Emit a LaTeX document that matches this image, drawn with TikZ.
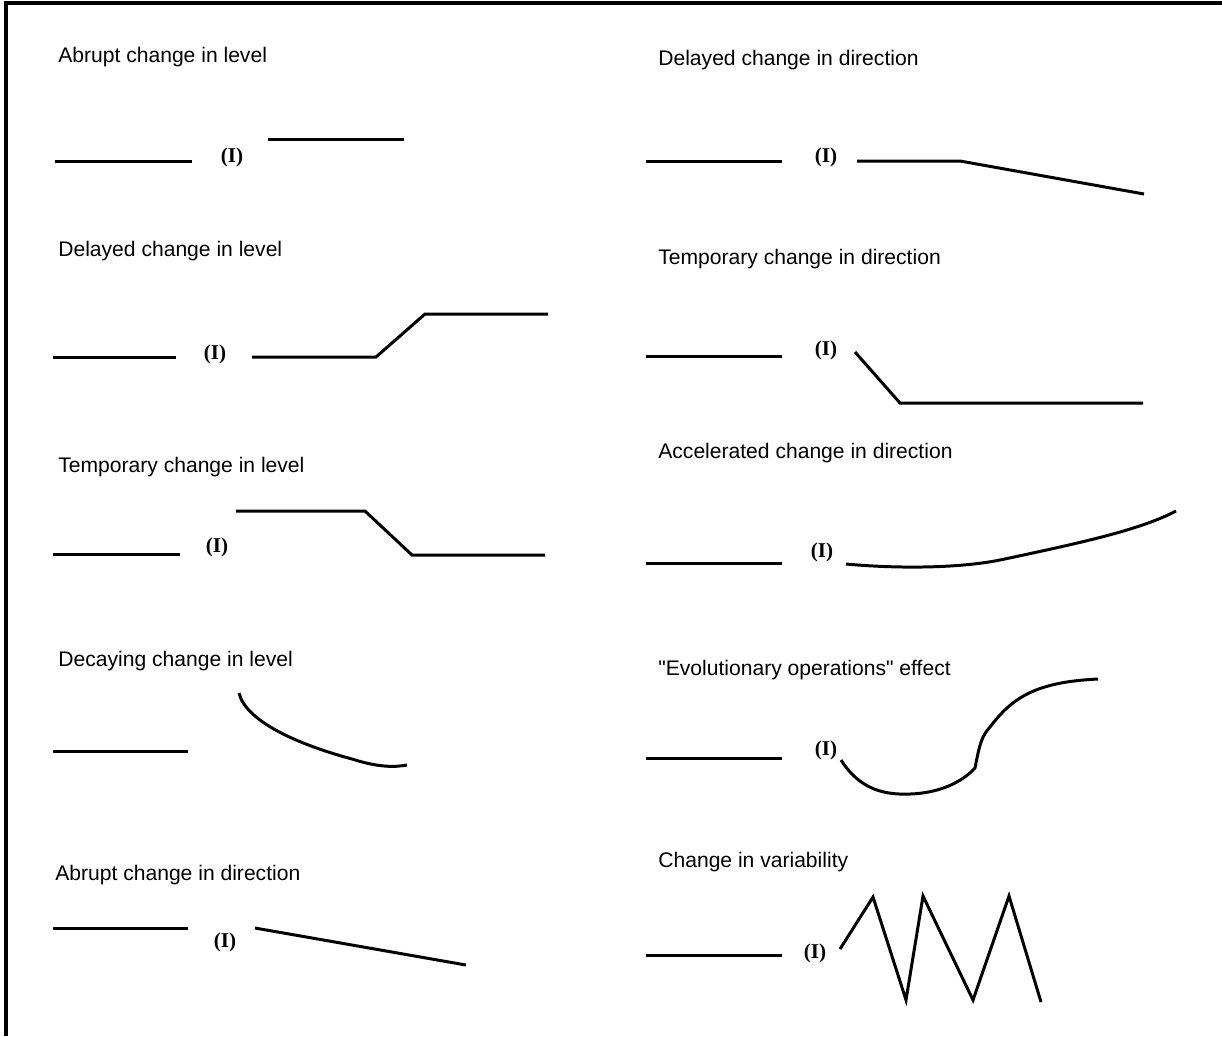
\documentclass[tikz,border=0pt]{standalone}
\usepackage{fontspec}
\setmainfont{Liberation Serif}
\setsansfont{Liberation Sans}
\usetikzlibrary{positioning}

\tikzset{
  title/.style={anchor=base west, font=\sffamily\fontsize{12}{14}\selectfont, inner sep=0pt},
  interv/.style={font=\bfseries\fontsize{12}{14}\selectfont, inner sep=0pt},
  series/.style={line width=1.7pt, black, line join=miter}
}

\begin{document}
\begin{tikzpicture}[x=0.02cm, y=-0.02cm]
        \useasboundingbox (0,0) rectangle (1222,1036);

        % Frame
        \draw[line width=2pt] (6,1036) -- (6,3) -- (1222,3);

        % Titles, left column
        \node[title] (t1) at (58,62)  {Abrupt change in level};
        \node[title] (t2) at (58,256) {Delayed change in level};
        \node[title] (t3) at (58,472) {Temporary change in level};
        \node[title] (t4) at (58,666) {Decaying change in level};
        \node[title] (t5) at (55,880) {Abrupt change in direction};

        % Titles, right column
        \node[title] (t6) at (658,65)  {Delayed change in direction};
        \node[title] (t7) at (658,264) {Temporary change in direction};
        \node[title] (t8) at (658,458) {Accelerated change in direction};
        \node[title] (t9) at (658,675) {\textquotedbl Evolutionary operations\textquotedbl\ effect};
        \node[title] (t10) at (658,867) {Change in variability};

        % Intervention labels
        \node[interv] (i1) at (232,157) {(I)};
        \node[interv] (i2) at (215,354) {(I)};
        \node[interv] (i3) at (217,547) {(I)};
        \node[interv] (i5) at (225,942) {(I)};
        \node[interv] (i6) at (826,157) {(I)};
        \node[interv] (i7) at (826,350) {(I)};
        \node[interv] (i8) at (822,552) {(I)};
        \node[interv] (i9) at (826,750) {(I)};
        \node[interv] (i10) at (815,953) {(I)};

        % Abrupt change in level
        \draw[series] (55,161) -- (192,161);
        \draw[series] (268,139) -- (404,139);

        % Delayed change in level
        \draw[series] (53,357) -- (176,357);
        \draw[series] (252,357) -- (376,357) -- (425,314) -- (548,314);

        % Temporary change in level
        \draw[series] (53,554) -- (180,554);
        \draw[series] (236,511) -- (365,511) -- (412,555) -- (545,555);

        % Decaying change in level
        \draw[series] (53,751) -- (188,751);
        \draw[series] (239,693) .. controls (246,722) and (300,745) .. (352,759)
                      .. controls (380,768) and (396,767) .. (407,765);

        % Abrupt change in direction
        \draw[series] (53,928) -- (188,928);
        \draw[series] (255,928) -- (466,965);

        % Delayed change in direction
        \draw[series] (646,161) -- (782,161);
        \draw[series] (857,161) -- (960,161) -- (1144,194);

        % Temporary change in direction
        \draw[series] (646,356) -- (782,356);
        \draw[series] (855,352) -- (900,403) -- (1143,403);

        % Accelerated change in direction
        \draw[series] (646,563) -- (782,563);
        \draw[series] (846,564) .. controls (900,569) and (960,568) .. (1000,560)
                      .. controls (1080,543) and (1140,530) .. (1176,511);

        % "Evolutionary operations" effect
        \draw[series] (646,758) -- (782,758);
        \draw[series] (841,760) .. controls (860,790) and (885,795) .. (910,794)
                      .. controls (940,793) and (962,782) .. (975,768)
                      .. controls (980,742) and (982,736) .. (990,727)
                      .. controls (1012,698) and (1035,682) .. (1098,679);

        % Change in variability
        \draw[series] (646,955) -- (782,955);
        \draw[series] (840,949) -- (873,897) -- (906,1000) -- (923,896)
                      -- (973,1000) -- (1009,896) -- (1041,1002);
    \end{tikzpicture}
\end{document}
